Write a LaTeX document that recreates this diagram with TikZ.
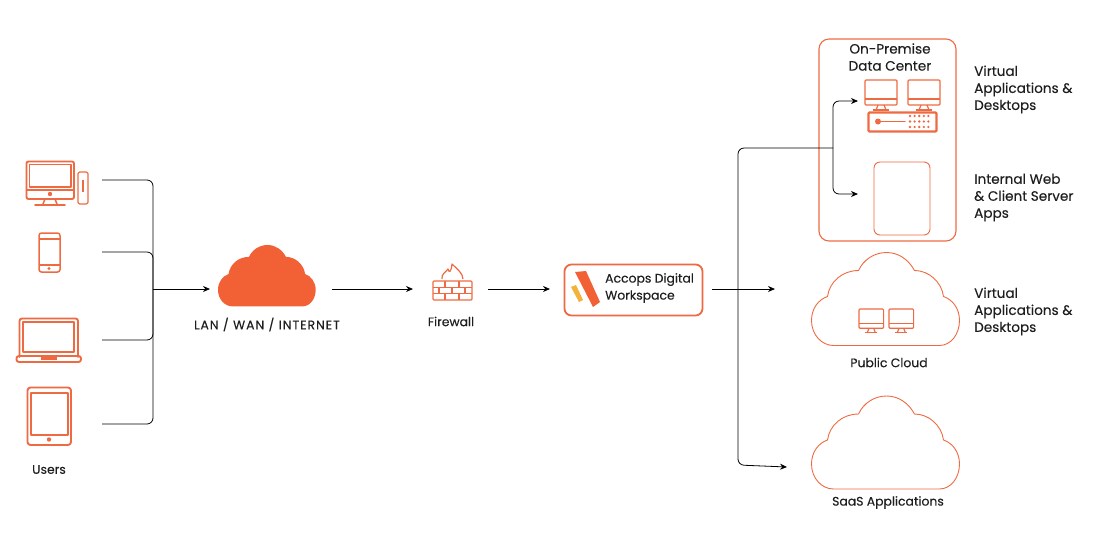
\documentclass[tikz,border=0pt]{standalone}
\usepackage{fontspec}
\setmainfont{Poppins}[FakeBold=0.2]
\usetikzlibrary{arrows.meta}

\definecolor{accopsred}{HTML}{EE6A42}
\definecolor{accopsfill}{HTML}{F26135}
\definecolor{accopsgold}{HTML}{F3B23C}
\definecolor{labelink}{HTML}{1E1E1E}

\tikzset{
    wire/.style={draw=black, line width=0.8pt, rounded corners=6pt},
    arrow/.style={wire, -{Stealth[length=7pt,width=6pt]}},
    icon/.style={draw=accopsred, line width=1.9pt, line join=round, line cap=round},
    thinicon/.style={draw=accopsred, line width=0.9pt, line join=round},
    label/.style={text=labelink, inner sep=0pt, font=\fontsize{12.4}{17}\selectfont, align=center},
    sidelabel/.style={label, align=left, anchor=west},
    widelabel/.style={sidelabel, font=\fontsize{13.6}{17}\selectfont},
    pics/cloudshape/.style={code={
        \path[pic actions] (22,93) -- (128,93)
            .. controls (139,93) and (148,82) .. (148,68)
            .. controls (148,56) and (141,47) .. (132,44)
            .. controls (130,29) and (117,18) .. (103,18)
            .. controls (97,7) and (87,0) .. (75,0)
            .. controls (63,0) and (52,7) .. (47,18)
            .. controls (31,18) and (18,29) .. (16,44)
            .. controls (7,47) and (0,56) .. (0,68)
            .. controls (0,82) and (10,93) .. (22,93) -- cycle;
    }},
    pics/monitor/.style={code={
        \draw[thinicon, line width=1.2pt, rounded corners=1pt] (0,0) rectangle (32,25);
        \draw[thinicon, line width=1.2pt] (0,19) -- (32,19);
        \draw[thinicon, line width=1.2pt] (13,25) -- (11,30) (19,25) -- (21,30);
        \draw[thinicon, line width=1.2pt] (8,30) -- (24,30);
    }},
}

\begin{document}
\begin{tikzpicture}[x=1pt, y=-1pt]

    \useasboundingbox (0,0) rectangle (1101,550);

    % Users
    \draw[icon, rounded corners=2pt] (26.5,161.5) rectangle (74,199);
    \draw[icon, line width=1.5pt] (29.5,164.5) rectangle (71,187);
    \draw[icon] (26.5,190) -- (74,190);
    \fill[accopsred] (50,194) circle (2.2pt);
    \draw[icon, line width=1.5pt] (45,199) -- (43,204) (55,199) -- (57,204);
    \draw[icon] (35,205) -- (65,205);
    \draw[thinicon, line width=1.1pt, rounded corners=1.5pt] (78,172) rectangle (88,204);
    \draw[thinicon, line width=1.1pt] (83,180) -- (83,192);

    \draw[icon, line width=1.5pt, rounded corners=2.5pt] (39,233) rectangle (60,272);
    \draw[thinicon, line width=1.1pt] (39,239) -- (60,239) (39,265) -- (60,265);
    \fill[accopsred] (49,268.5) circle (1.7pt);

    \draw[icon, rounded corners=2.5pt] (19.5,357) -- (19.5,318.5) -- (78,318.5) -- (78,357);
    \draw[icon, line width=1.6pt] (23,322) rectangle (74,352);
    \draw[icon, rounded corners=2.5pt] (16.5,356) rectangle (81,362);
    \fill[accopsred] (41,356) rectangle (57,360);

    \draw[icon, rounded corners=3pt] (27.5,387.5) rectangle (71,445);
    \draw[icon, line width=1.6pt] (31,393) rectangle (68,435);
    \fill[accopsred] (49,439.5) circle (2.2pt);

    \node[label] (users) at (49,469.5) {Users};

    \coordinate (deskEnd) at (102,180);
    \coordinate (phoneEnd) at (102,252);
    \coordinate (laptopEnd) at (102,340);
    \coordinate (tabletEnd) at (102,424);
    \coordinate (busMid) at (153,289);
    \coordinate (lanIn) at (210,289);

    \draw[wire] (deskEnd) -| (busMid);
    \draw[wire] (phoneEnd) -| (busMid);
    \draw[wire] (laptopEnd) -| (busMid);
    \draw[wire] (tabletEnd) -| (busMid);
    \draw[arrow] (busMid) -- (lanIn);

    % LAN
    \pic[fill=accopsfill, scale=0.66] at (218,245) {cloudshape};
    \node[label, font=\fontsize{12.4}{17}\selectfont\addfontfeature{LetterSpace=8}] (lan) at (267,324.5) {LAN / WAN / INTERNET};
    \coordinate (lanOut) at (332,289);
    \coordinate (fwIn) at (413,289);
    \draw[arrow] (lanOut) -- (fwIn);

    % Firewall
    \draw[thinicon, line width=1.2pt, rounded corners=1pt] (433,281) rectangle (472,300);
    \draw[thinicon, line width=1.2pt] (433,287.3) -- (472,287.3) (433,293.6) -- (472,293.6);
    \draw[thinicon, line width=1.2pt] (445,281) -- (445,287.3) (459,281) -- (459,287.3);
    \draw[thinicon, line width=1.2pt] (439,287.3) -- (439,293.6) (452,287.3) -- (452,293.6) (465,287.3) -- (465,293.6);
    \draw[thinicon, line width=1.2pt] (445,293.6) -- (445,300) (459,293.6) -- (459,300);
    \draw[thinicon, line width=1.2pt] (442,279)
        .. controls (441,274) and (446,272) .. (448,269)
        .. controls (449,273) and (451,273) .. (452,264)
        .. controls (456,268) and (463,273) .. (463,279);
    \node[label] (firewall) at (451,321.5) {Firewall};
    \coordinate (fwOut) at (488,289);
    \coordinate (wsIn) at (550,289);
    \draw[arrow] (fwOut) -- (wsIn);

    % Workspace
    \node[draw=accopsred, line width=1.8pt, rounded corners=7pt, minimum width=138pt, minimum height=51pt, inner sep=0pt] (workspace) at (633.5,290) {};
    \fill[accopsfill] (575,272) -- (586,271) -- (600,302) -- (593,307) -- cycle;
    \fill[accopsgold] (571,287) -- (576,285) -- (583,300) -- (579,302) -- cycle;
    \node[sidelabel] (wstext) at (605,288) {Accops Digital\\Workspace};
    \coordinate (wsOut) at (712,289);
    \coordinate (cloudIn) at (775,289);
    \draw[arrow] (wsOut) -- (cloudIn);

    % On-premise
    \node[draw=accopsred, line width=1.1pt, rounded corners=10pt, minimum width=137pt, minimum height=202pt, inner sep=0pt] (datacenter) at (887.5,140) {};
    \node[label, font=\fontsize{13.6}{17}\selectfont] (dctitle) at (890,57) {On-Premise\\Data Center};
    \pic at (865,80) {monitor};
    \pic at (908,80) {monitor};
    \draw[icon, line width=2.4pt, rounded corners=1pt] (868.5,112.5) rectangle (936.5,131.5);
    \fill[accopsred] (878,121.5) circle (3pt);
    \draw[icon, line width=1.8pt] (880,121.5) -- (905,121.5);
    \foreach \col in {0,1,2,3,4} {
        \foreach \row in {0,1,2} {
            \fill[accopsred] (910+4.6*\col,116+5.5*\row) circle (1.3pt);
        }
    }
    \node[draw=accopsred, line width=0.9pt, rounded corners=6pt, minimum width=56pt, minimum height=73pt, inner sep=0pt] (webapps) at (902,198.5) {};

    \node[widelabel] (vdilabel) at (974,89.5) {Virtual\\Applications \&\\Desktops};
    \node[widelabel] (weblabel) at (974,197.5) {Internal Web\\\& Client Server\\Apps};

    % Public cloud
    \pic[thinicon] at (811.5,252.5) {cloudshape};
    \pic[scale=0.77] at (859,309) {monitor};
    \pic[scale=0.77] at (889,309) {monitor};
    \node[label] (publiclabel) at (889,362.5) {Public Cloud};
    \node[widelabel] (cloudlabel) at (974,311.5) {Virtual\\Applications \&\\Desktops};

    % SaaS
    \pic[thinicon] at (811.5,396) {cloudshape};
    \node[label] (saaslabel) at (888,502.5) {SaaS Applications};

    % Tronco
    \coordinate (dcJoint) at (833,148);
    \coordinate (trunkTop) at (738,148);
    \coordinate (trunkFoot) at (738,465);
    \coordinate (saasIn) at (787,467);
    \coordinate (vdiIn) at (858,101);
    \coordinate (webIn) at (858,194);
    \draw[arrow] (dcJoint) -- (trunkTop) -- (trunkFoot) -- (saasIn);
    \draw[arrow] (dcJoint) |- (vdiIn);
    \draw[arrow] (dcJoint) |- (webIn);

\end{tikzpicture}
\end{document}
